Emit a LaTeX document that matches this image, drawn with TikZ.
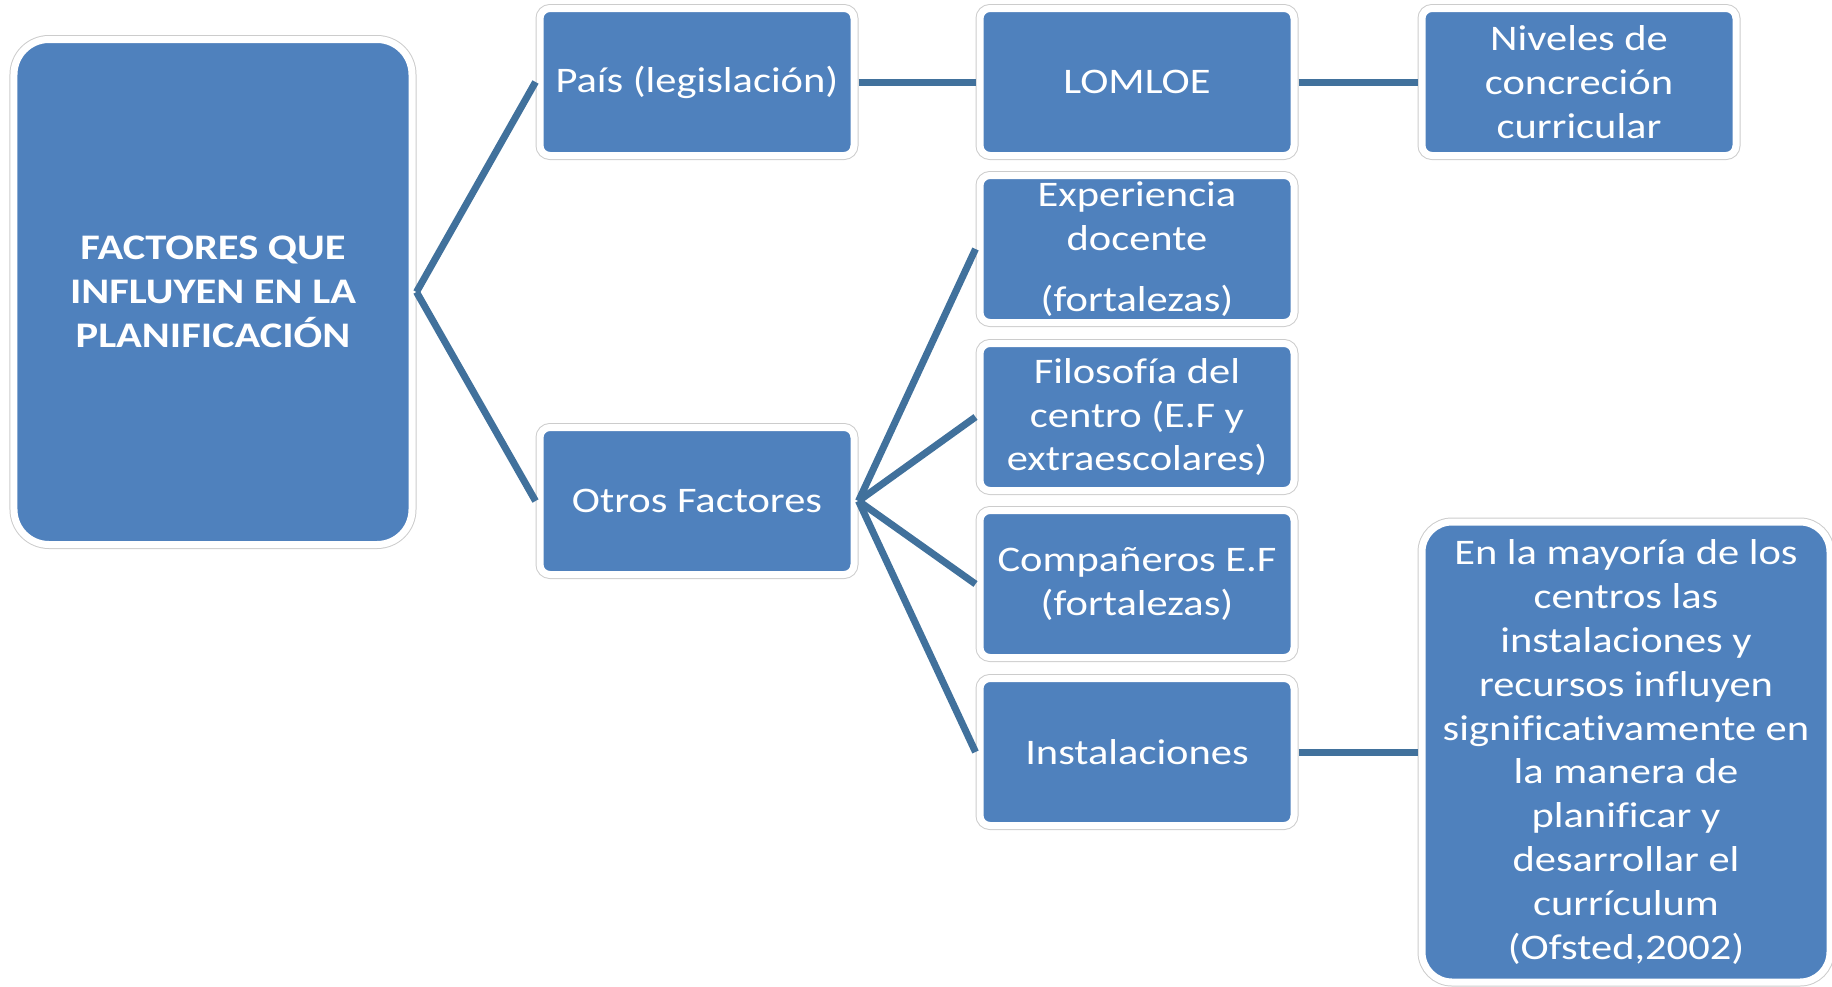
\documentclass[tikz,border=0pt]{standalone}
\usepackage{fontspec}
\setmainfont[FakeStretch=1.18,Ligatures=CommonOff]{Carlito}
\usetikzlibrary{positioning}
\definecolor{azulcaja}{HTML}{4F81BD}
\definecolor{azullinea}{HTML}{41719C}
\definecolor{grisborde}{HTML}{CCCCCC}

\begin{document}
\begin{tikzpicture}[node distance=220pt,on grid,
    caja/.style={rectangle,rounded corners=5pt,fill=azulcaja,draw=white,line width=3.5pt,
      preaction={draw=grisborde,line width=4.5pt},outer sep=2.25pt,inner sep=0pt,
      minimum width=157pt,minimum height=73.5pt,align=center,text=white,
      font=\fontsize{18}{21.9}\selectfont},
    con/.style={draw=azullinea,line width=3.5pt}]
   \useasboundingbox (-106.5pt,146pt) rectangle (809.5pt,-347pt);
   \node[caja,minimum width=199pt,minimum height=252.5pt,rounded corners=17.5pt,
     font=\fontsize{18}{21.9}\selectfont\bfseries] (factores) {FACTORES QUE\\INFLUYEN EN LA\\PLANIFICACIÓN};
   \node[caja] (pais) [above right=105pt and 242pt of factores] {País (legislación)};
   \node[caja] (otros) [below=209.5pt of pais] {Otros Factores};
   \node[caja] (lomloe) [right=of pais] {LOMLOE};
   \node[caja] (niveles) [right=221pt of lomloe] {Niveles de\\concreción\\curricular};
   \node[caja] (experiencia) [below=83.5pt of lomloe] {Experiencia\\docente\\[8.5pt](fortalezas)};
   \node[caja] (filosofia) [below=84pt of experiencia] {Filosofía del\\centro (E.F y\\extraescolares)};
   \node[caja] (companeros) [below=83.5pt of filosofia] {Compañeros E.F\\(fortalezas)};
   \node[caja] (instalaciones) [below=84pt of companeros] {Instalaciones};
   \node[caja,minimum width=204pt,minimum height=230pt,rounded corners=15pt] (mayoria)
     [right=244.5pt of instalaciones] {En la mayoría de los\\centros las\\instalaciones y\\recursos influyen\\significativamente en\\la manera de\\planificar y\\desarrollar el\\currículum\\(Ofsted,2002)};
    \path[con]
    (factores.east) edge (pais.west)
    (factores.east) edge (otros.west)
    (pais) edge (lomloe)
    (lomloe) edge (niveles)
    (otros.east) edge (experiencia.west)
    (otros.east) edge (filosofia.west)
    (otros.east) edge (companeros.west)
    (otros.east) edge (instalaciones.west)
    (instalaciones) edge (mayoria);
\end{tikzpicture}
\end{document}
